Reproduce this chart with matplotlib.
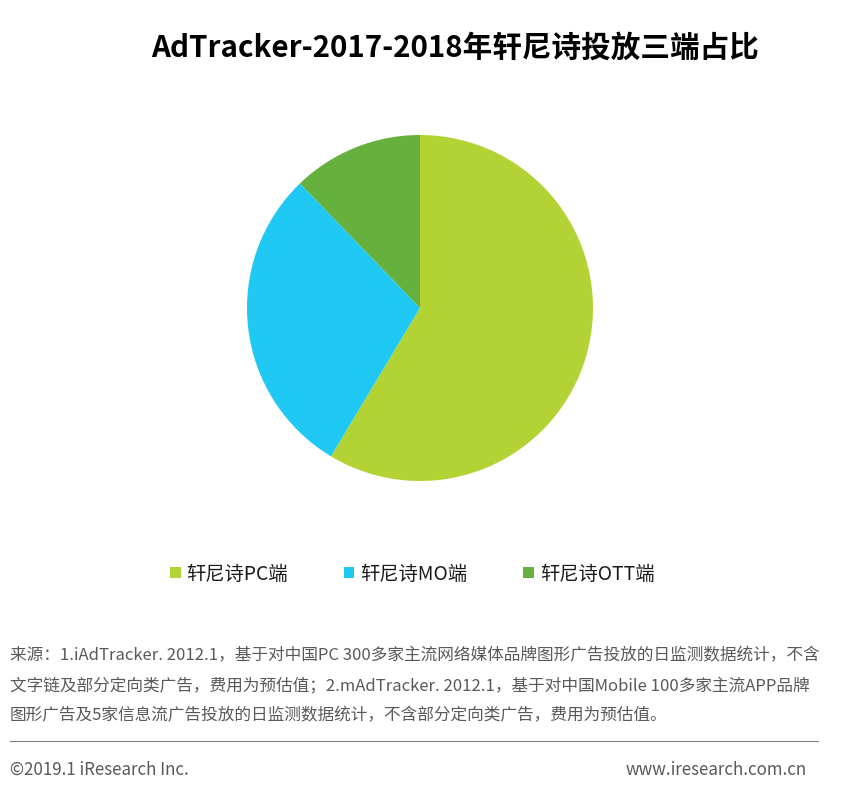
import matplotlib
matplotlib.use("Agg")
import matplotlib.pyplot as plt

plt.rcParams['font.family'] = ['Noto Sans CJK SC', 'DejaVu Sans']

# data
labels = ['轩尼诗PC端', '轩尼诗MO端', '轩尼诗OTT端']
shares = [58.6, 29.2, 12.2]
colors = ['#B3D334', '#20C9F3', '#66B03E']

title = 'AdTracker-2017-2018年轩尼诗投放三端占比'
note_lines = [
    '来源：1.iAdTracker. 2012.1，基于对中国PC 300多家主流网络媒体品牌图形广告投放的日监测数据统计，不含',
    '文字链及部分定向类广告，费用为预估值；2.mAdTracker. 2012.1，基于对中国Mobile 100多家主流APP品牌',
    '图形广告及5家信息流广告投放的日监测数据统计，不含部分定向类广告，费用为预估值。',
]

W, H = 842, 808
fig = plt.figure(figsize=(W / 100, H / 100), dpi=100)
fig.patch.set_facecolor('white')

# pie: centre (420, 308) px, radius ~173 px
cx, cy, r = 420, 308, 173
ax = fig.add_axes([(cx - r) / W, 1 - (cy + r) / H, 2 * r / W, 2 * r / H])
wedges, _ = ax.pie(shares, colors=colors, startangle=90, counterclock=False,
                   radius=1, wedgeprops=dict(linewidth=0))
ax.set_xlim(-1, 1)
ax.set_ylim(-1, 1)
ax.axis('off')

fig.text(455 / W, 1 - 48 / H, title, ha='center', va='center',
         fontsize=21.3, fontweight='bold', color='black')

fig.legend(wedges, labels, loc='center', bbox_to_anchor=(412 / W, 1 - 574 / H),
           ncol=3, frameon=False, fontsize=13.9, handlelength=0.55, handleheight=0.55,
           handletextpad=0.3, columnspacing=2.9, labelcolor='#1a1a1a')

for i, line in enumerate(note_lines):
    fig.text(10 / W, 1 - (656 + 30 * i) / H, line, ha='left', va='center',
             fontsize=12, color='#595959')

fig.add_artist(plt.Line2D([10 / W, 818 / W], [1 - 741 / H, 1 - 741 / H],
                          color='#7f7f7f', linewidth=0.8))
fig.text(10 / W, 1 - 770 / H, '©2019.1 iResearch Inc.', ha='left', va='center',
         fontsize=12.2, color='#595959')
fig.text(807 / W, 1 - 770 / H, 'www.iresearch.com.cn', ha='right', va='center',
         fontsize=12.2, color='#595959')

fig.savefig('out.png', dpi=100, facecolor='white')
